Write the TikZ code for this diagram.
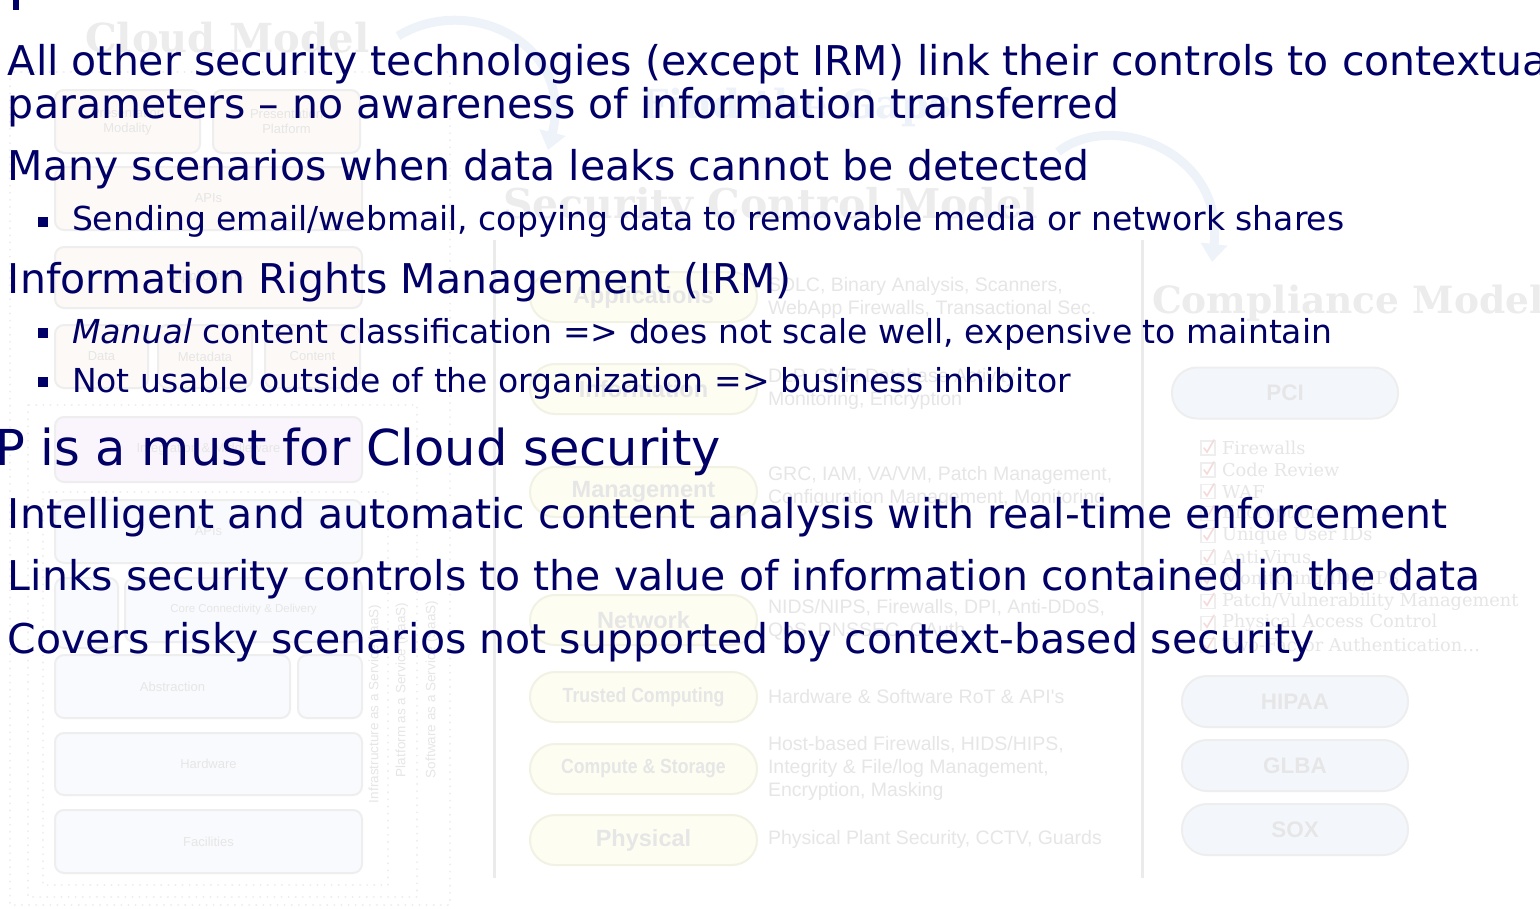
\documentclass[tikz,border=0pt]{standalone}
\usepackage{fontspec}
\setmainfont{DejaVu Sans}
\newfontfamily\uifont{Liberation Sans}
\newfontfamily\narrowfont[FakeStretch=0.86]{Liberation Sans}
\newfontfamily\slabfont{DejaVu Serif}
\usetikzlibrary{arrows.meta}

\definecolor{ink}{HTML}{000066}
\definecolor{ghost}{HTML}{E6E6E6}
\definecolor{ghosttitle}{HTML}{ECECEC}
\definecolor{ghostline}{HTML}{EEEEEE}
\definecolor{dotline}{HTML}{EDEDED}
\definecolor{rulegray}{HTML}{EBEBEB}
\definecolor{peach}{HTML}{FDF9F6}
\definecolor{lilac}{HTML}{FAF5FC}
\definecolor{mist}{HTML}{F9FAFD}
\definecolor{cream}{HTML}{FDFDF1}
\definecolor{creamline}{HTML}{F1F1E4}
\definecolor{icefill}{HTML}{F3F7FC}
\definecolor{arcblue}{HTML}{EEF3FA}
\definecolor{gapblue}{HTML}{EDF1F8}
\definecolor{tickred}{HTML}{F4DADA}

\begin{document}
\begin{tikzpicture}[x=1pt,y=-1pt,
  every node/.style={inner sep=0pt, outer sep=0pt},
  headline/.style={anchor=base west, text=ink, font=\fontsize{41}{41}\selectfont},
  subline/.style={anchor=base west, text=ink, font=\fontsize{33}{33}\selectfont},
  bigline/.style={anchor=base west, text=ink, font=\fontsize{49.5}{49.5}\selectfont},
  bulletsq/.style={fill=ink, minimum size=10pt},
  layerbox/.style={draw=ghostline, line width=2pt, rounded corners=9pt, text=ghost,
    font=\uifont\fontsize{13}{15}\selectfont, align=center},
  ctrlpill/.style={draw=creamline, fill=cream, line width=2pt, rounded corners=25pt,
    minimum width=227pt, minimum height=50pt, text=ghost,
    font=\uifont\bfseries\fontsize{23.5}{23.5}\selectfont},
  ctrlpillsmall/.style={ctrlpill, font=\narrowfont\bfseries\fontsize{20.5}{20.5}\selectfont},
  regpill/.style={draw=ghostline, fill=icefill, line width=2pt, rounded corners=25pt,
    minimum width=226pt, minimum height=51pt, text=ghost,
    font=\uifont\bfseries\fontsize{22.5}{22.5}\selectfont},
  ctrldesc/.style={anchor=west, align=left, text=ghost,
    font=\uifont\fontsize{19.5}{23}\selectfont},
  modeltitle/.style={anchor=base west, text=ghosttitle,
    font=\slabfont\bfseries\fontsize{40}{40}\selectfont},
  checkitem/.style={anchor=west, text=ghost, font=\slabfont\fontsize{17.8}{17.8}\selectfont},
  tickbox/.style={draw=ghostline, line width=1.2pt, minimum size=14pt},
  svclabel/.style={rotate=90, anchor=west, text=ghost, font=\uifont\fontsize{13.5}{13.5}\selectfont},
  dotframe/.style={draw=dotline, line width=2pt, line cap=round, dash pattern=on 0.1pt off 7pt},
  gaparc/.style={draw=arcblue, line width=9pt, -{Triangle[length=18pt,width=26pt]}}
]
\path[use as bounding box, fill=white] (0,0) rectangle (1540,908);
\clip (0,0) rectangle (1540,908);

% ---------- Cloud model (left) ----------
\node[modeltitle] (cloudtitle) at (85,52) {Cloud Model};
\draw[dotframe] (10,72) rectangle (450,905);
\draw[dotframe] (28,405) rectangle (417,897);
\draw[dotframe] (43,492) rectangle (388,885);

\node[layerbox, fill=peach, minimum width=145pt, minimum height=63pt] (modality) at (127.5,121.5) {Presentation\\Modality};
\node[layerbox, fill=peach, minimum width=147pt, minimum height=63pt] (platform) at (286.5,121.5) {Presentation\\Platform};
\node[layerbox, fill=peach, minimum width=307pt, minimum height=63pt] (apitop) at (208.5,198.5) {APIs};
\node[layerbox, fill=peach, minimum width=307pt, minimum height=61pt] (apps) at (208.5,277.5) {Applications};
\node[layerbox, fill=peach, minimum width=93pt, minimum height=63pt] (data) at (101.5,356.5) {Data};
\node[layerbox, fill=peach, minimum width=94pt, minimum height=63pt] (meta) at (205,356.5) {Metadata};
\node[layerbox, fill=peach, minimum width=95pt, minimum height=63pt] (content) at (312.5,356.5) {Content};
\node[layerbox, fill=lilac, minimum width=307pt, minimum height=65pt] (middleware) at (208.5,449.5) {Integration \& Middleware};
\node[layerbox, fill=mist, minimum width=307pt, minimum height=63pt] (apilow) at (208.5,531.5) {APIs};
\node[layerbox, fill=mist, minimum width=63pt, minimum height=70pt] (stub) at (86.5,613) {};
\node[layerbox, fill=mist, minimum width=237pt, minimum height=64pt, font=\uifont\fontsize{11.5}{13}\selectfont] (core) at (243.5,610) {Core Connectivity \& Delivery};
\node[layerbox, fill=mist, minimum width=235pt, minimum height=63pt] (abstraction) at (172.5,686.5) {Abstraction};
\node[layerbox, fill=mist, minimum width=64pt, minimum height=63pt] (sidecell) at (330,686.5) {};
\node[layerbox, fill=mist, minimum width=307pt, minimum height=62pt] (hardware) at (208.5,764) {Hardware};
\node[layerbox, fill=mist, minimum width=307pt, minimum height=63pt] (facilities) at (208.5,841.5) {Facilities};

\node[svclabel] (iaas) at (375,803) {Infrastructure as a Service (IaaS)};
\node[svclabel] (paas) at (402,777) {Platform as a Service (PaaS)};
\node[svclabel] (saas) at (432,778) {Software as a Service (SaaS)};

% ---------- curved arrows between the models ----------
\coordinate (arcAfrom) at (398,36);
\coordinate (arcAto) at (548,150);
\draw[gaparc] (arcAfrom) .. controls (470,-8) and (575,45) .. (arcAto);
\coordinate (arcBfrom) at (1058,152);
\coordinate (arcBto) at (1212,262);
\draw[gaparc] (arcBfrom) .. controls (1110,110) and (1225,150) .. (arcBto);
\node[modeltitle, text=gapblue, font=\slabfont\bfseries\fontsize{40}{40}\selectfont] (gaps) at (640,118) {Find the Gaps};

% ---------- Security control model (middle) ----------
\node[modeltitle, font=\slabfont\bfseries\fontsize{41}{41}\selectfont] (ctrltitle) at (503,218) {Security Control Model};
\coordinate (ruleAtop) at (494,240);
\coordinate (ruleAbot) at (494,878);
\draw[rulegray, line width=3pt] (ruleAtop) -- (ruleAbot);
\coordinate (ruleBtop) at (1142,240);
\coordinate (ruleBbot) at (1142,878);
\draw[rulegray, line width=3pt] (ruleBtop) -- (ruleBbot);

\node[ctrlpill] (cApps) at (643.5,297) {Applications};
\node[ctrlpill] (cInfo) at (643.5,389) {Information};
\node[ctrlpill] (cMgmt) at (643.5,492) {Management};
\node[ctrlpill] (cNet) at (643.5,620) {Network};
\node[ctrlpillsmall] (cTrust) at (643.5,697) {Trusted Computing};
\node[ctrlpillsmall] (cComp) at (643.5,769) {Compute \& Storage};
\node[ctrlpill] (cPhys) at (643.5,840) {Physical};

\node[ctrldesc] (dApps) at (768,297.5) {SDLC, Binary Analysis, Scanners,\\WebApp Firewalls, Transactional Sec.};
\node[ctrldesc] (dInfo) at (768,389) {DLP, CMF, Database Activity\\Monitoring, Encryption};
\node[ctrldesc] (dMgmt) at (768,487) {GRC, IAM, VA/VM, Patch Management,\\Configuration Management, Monitoring};
\node[ctrldesc] (dNet) at (768,619.5) {NIDS/NIPS, Firewalls, DPI, Anti-DDoS,\\QoS, DNSSEC, OAuth};
\node[ctrldesc] (dTrust) at (768,697) {Hardware \& Software RoT \& API's};
\node[ctrldesc] (dComp) at (768,768) {Host-based Firewalls, HIDS/HIPS,\\Integrity \& File/log Management,\\Encryption, Masking};
\node[ctrldesc] (dPhys) at (768,839) {Physical Plant Security, CCTV, Guards};

% ---------- Compliance model (right) ----------
\node[modeltitle, font=\slabfont\bfseries\fontsize{37.5}{37.5}\selectfont] (comptitle) at (1152,313) {Compliance Model};
\node[regpill] (pci) at (1285,393) {PCI};
\foreach \req [count=\i] in {{Firewalls}, {Code Review}, {WAF}, {Encryption}, {Unique User IDs}, {Anti-Virus},
    {Monitoring/IDS/IPS}, {Patch/Vulnerability Management}, {Physical Access Control},
    {Two-Factor Authentication\ldots}} {
  \pgfmathsetmacro{\yy}{448+21.9*(\i-1)}
  \node[tickbox] (chk\i) at (1208,\yy) {};
  \draw[tickred, line width=1.6pt, line cap=round]
    ([shift={(-4,0)}]chk\i.center) -- ([shift={(-1,4)}]chk\i.center) -- ([shift={(6,-8)}]chk\i.center);
  \node[checkitem] (req\i) at (1222,\yy) {\req};
}
\node[regpill] (hipaa) at (1295,701.5) {HIPAA};
\node[regpill] (glba) at (1295,765.5) {GLBA};
\node[regpill] (sox) at (1295,829.5) {SOX};

% ---------- slide text ----------
\path[fill=ink] (13,0) rectangle (18.5,10);
\node[headline] (l1) at (8,75) {All other security technologies (except IRM) link their controls to contextual};
\node[headline] (l2) at (8,118) {parameters – no awareness of information transferred};
\node[headline] (l3) at (8,180) {Many scenarios when data leaks cannot be detected};
\node[bulletsq] (b1) at (43,222) {};
\node[subline] (l4) at (72,230) {Sending email/webmail, copying data to removable media or network shares};
\node[headline] (l5) at (8,293) {Information Rights Management (IRM)};
\node[bulletsq] (b2) at (43,333) {};
\node[subline] (l6) at (72,343) {\textit{Manual} content classification => does not scale well, expensive to maintain};
\node[bulletsq] (b3) at (43,382) {};
\node[subline] (l7) at (72,392) {Not usable outside of the organization => business inhibitor};
\node[bigline] (l8) at (-5,465) {P is a must for Cloud security};
\node[headline] (l9) at (8,528) {Intelligent and automatic content analysis with real-time enforcement};
\node[headline] (l10) at (8,590) {Links security controls to the value of information contained in the data};
\node[headline] (l11) at (8,653) {Covers risky scenarios not supported by context-based security};
\end{tikzpicture}
\end{document}
